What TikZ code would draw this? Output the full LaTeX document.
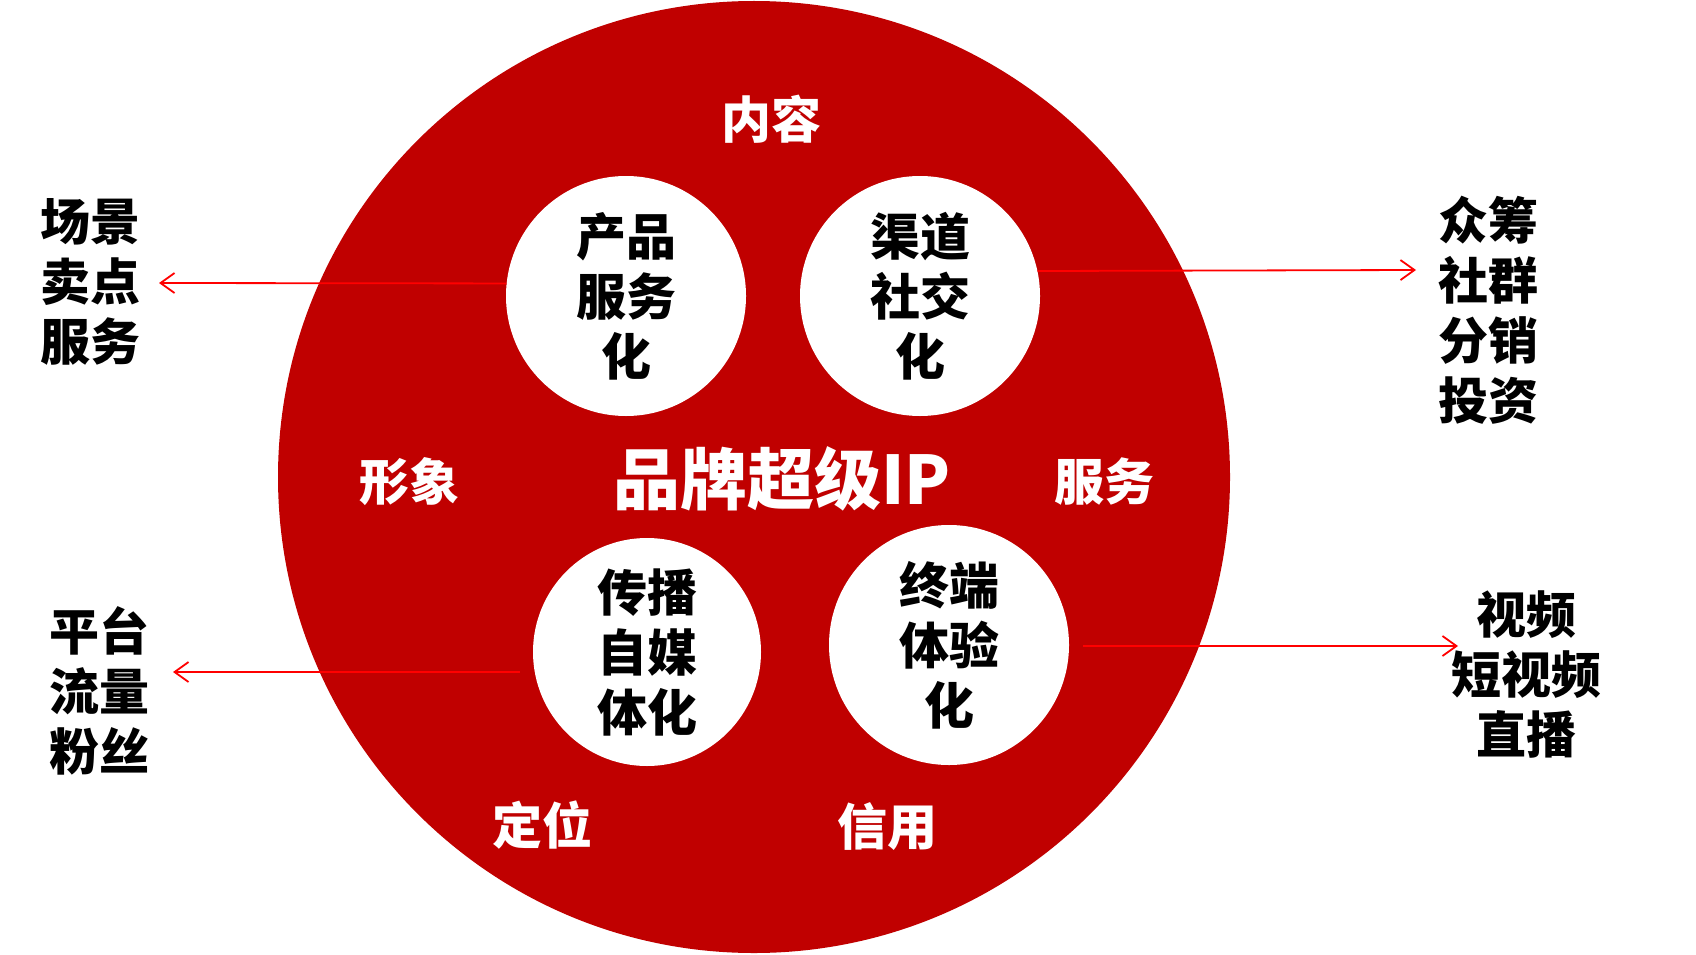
\documentclass[tikz,border=0pt]{standalone}
\usepackage{fontspec}
\newfontfamily\cjk{Noto Sans CJK SC}
\usetikzlibrary{arrows.meta}
\definecolor{bigred}{HTML}{C00000}
\definecolor{arrred}{HTML}{FF0000}
\tikzset{
  bigcirc/.style={circle, fill=bigred, inner sep=0pt},
  whitecirc/.style={circle, fill=white, inner sep=0pt, minimum size=240pt},
  intext/.style={align=center, inner sep=0pt, text=black, font=\cjk\bfseries\fontsize{50}{60}\selectfont},
  outtext/.style={align=center, inner sep=0pt, text=black, font=\cjk\bfseries\fontsize{50}{60}\selectfont},
  redlabel/.style={inner sep=0pt, text=white, font=\cjk\bfseries\fontsize{50}{60}\selectfont},
  arr/.style={draw=arrred, line width=1.8pt, -{Straight Barb[length=14pt,width=20pt,line width=1.8pt]}}
}
\begin{document}
\begin{tikzpicture}[x=1pt,y=-1pt]
\useasboundingbox (0,0) rectangle (1696,955);
\fill[white] (0,0) rectangle (1696,955);
% big circle
\node[bigcirc, minimum size=952pt] (big) at (754,477) {};
% small circles
\node[whitecirc] (c1) at (626,296) {};
\node[whitecirc] (c2) at (920,296) {};
\node[whitecirc, minimum size=228pt] (c3) at (647,652) {};
\node[whitecirc] (c4) at (949,645) {};
% texts inside circles
\node[intext] (t1) at (c1) {产品\\服务\\化};
\node[intext] (t2) at (c2) {渠道\\社交\\化};
\node[intext] (t3) at (c3) {传播\\自媒\\体化};
\node[intext] (t4) at (c4) {终端\\体验\\化};
% center
\node[inner sep=0pt, text=white, font=\cjk\bfseries\fontsize{67}{80}\selectfont] (ip) at (782,479) {品牌超级IP};
% red labels
\node[redlabel] (l1) at (771,119) {内容};
\node[redlabel] (l2) at (409,482) {形象};
\node[redlabel] (l3) at (1104,482) {服务};
\node[redlabel] (l4) at (542,825) {定位};
\node[redlabel] (l5) at (887,827) {信用};
% outer texts
\node[outtext] (o1) at (90,282) {场景\\卖点\\服务};
\node[outtext] (o2) at (1488,310) {众筹\\社群\\分销\\投资};
\node[outtext] (o3) at (99,691) {平台\\流量\\粉丝};
\node[outtext] (o4) at (1526,674) {视频\\短视频\\直播};
% arrows
\coordinate (e1) at (159,283);
\coordinate (e2) at (1416,270);
\coordinate (s3) at (520,672);
\coordinate (e3) at (173,672);
\coordinate (s4) at (1083,646);
\coordinate (e4) at (1458,646);
\draw[arr] (c1.174) -- (e1);
\draw[arr] (c2.12.5) -- (e2);
\draw[arr] (s3) -- (e3);
\draw[arr] (s4) -- (e4);
\end{tikzpicture}
\end{document}
